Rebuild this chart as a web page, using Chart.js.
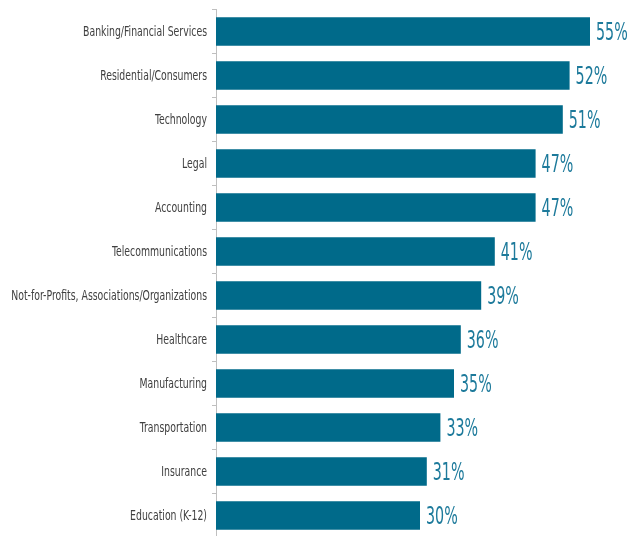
<!DOCTYPE html>
<html><head><meta charset="utf-8">
<script src="https://cdn.jsdelivr.net/npm/chart.js@4/dist/chart.umd.min.js"></script>
<style>html,body{margin:0;padding:0;background:#fff;overflow:hidden}#wrap{position:absolute;left:0;top:0;width:627px;height:540px}</style>
</head><body><div id="wrap"><canvas id="c" width="627" height="540"></canvas></div>
<script>
const categories = ["Banking/Financial Services","Residential/Consumers","Technology","Legal","Accounting","Telecommunications","Not-for-Profits, Associations/Organizations","Healthcare","Manufacturing","Transportation","Insurance","Education (K-12)"];
const values = [55,52,51,47,47,41,39,36,35,33,31,30];
const valueLabels = values.map(v => v + "%");
const NARROW = "'DejaVu Sans Condensed','DejaVu Sans',sans-serif";

function narrowText(ctx, text, x, y, sx, align) {
  ctx.save();
  ctx.translate(x, y);
  ctx.scale(sx, 1);
  ctx.textAlign = align;
  ctx.fillText(text, 0, 0);
  ctx.restore();
}

const labelPlugin = {
  id: 'narrowLabels',
  afterDatasetsDraw(chart) {
    const ctx = chart.ctx;
    const meta = chart.getDatasetMeta(0);
    const ys = chart.scales.y;
    ctx.save();
    ctx.textBaseline = "middle";
    // category labels
    ctx.font = "14px " + NARROW;
    ctx.fillStyle = "#404040";
    categories.forEach((c, i) => {
      narrowText(ctx, c, ys.right - 9, ys.getPixelForTick(i) + 1, 0.74, 'right');
    });
    // value labels
    ctx.font = "24px " + NARROW;
    ctx.fillStyle = "#1d7a9b";
    meta.data.forEach((bar, i) => {
      narrowText(ctx, valueLabels[i], bar.x + 6, bar.y + 2, 0.66, 'left');
    });
    ctx.restore();
  }
};

new Chart(document.getElementById('c'), {
  type: 'bar',
  data: { labels: categories, datasets: [{ data: values, backgroundColor: '#006a8a', borderWidth: 0, categoryPercentage: 1, barPercentage: 0.65 }] },
  options: {
    indexAxis: 'y', responsive: false, animation: false,
    layout: { padding: { top: 9.5, right: 3, bottom: 2.5, left: 0 } },
    plugins: { legend: { display: false }, tooltip: { enabled: false } },
    scales: {
      x: { display: false, min: 0, max: 60 },
      y: {
        afterFit(s) { s.width = 216; s.paddingTop = 0; s.paddingBottom = 0; },
        border: { display: true, color: '#bfbfbf', width: 1 },
        grid: { drawOnChartArea: false, tickLength: 4, color: '#bfbfbf', offset: true },
        ticks: { color: 'rgba(0,0,0,0)', padding: 5, font: { family: NARROW, size: 13 } }
      }
    }
  },
  plugins: [labelPlugin]
});
</script></body></html>
